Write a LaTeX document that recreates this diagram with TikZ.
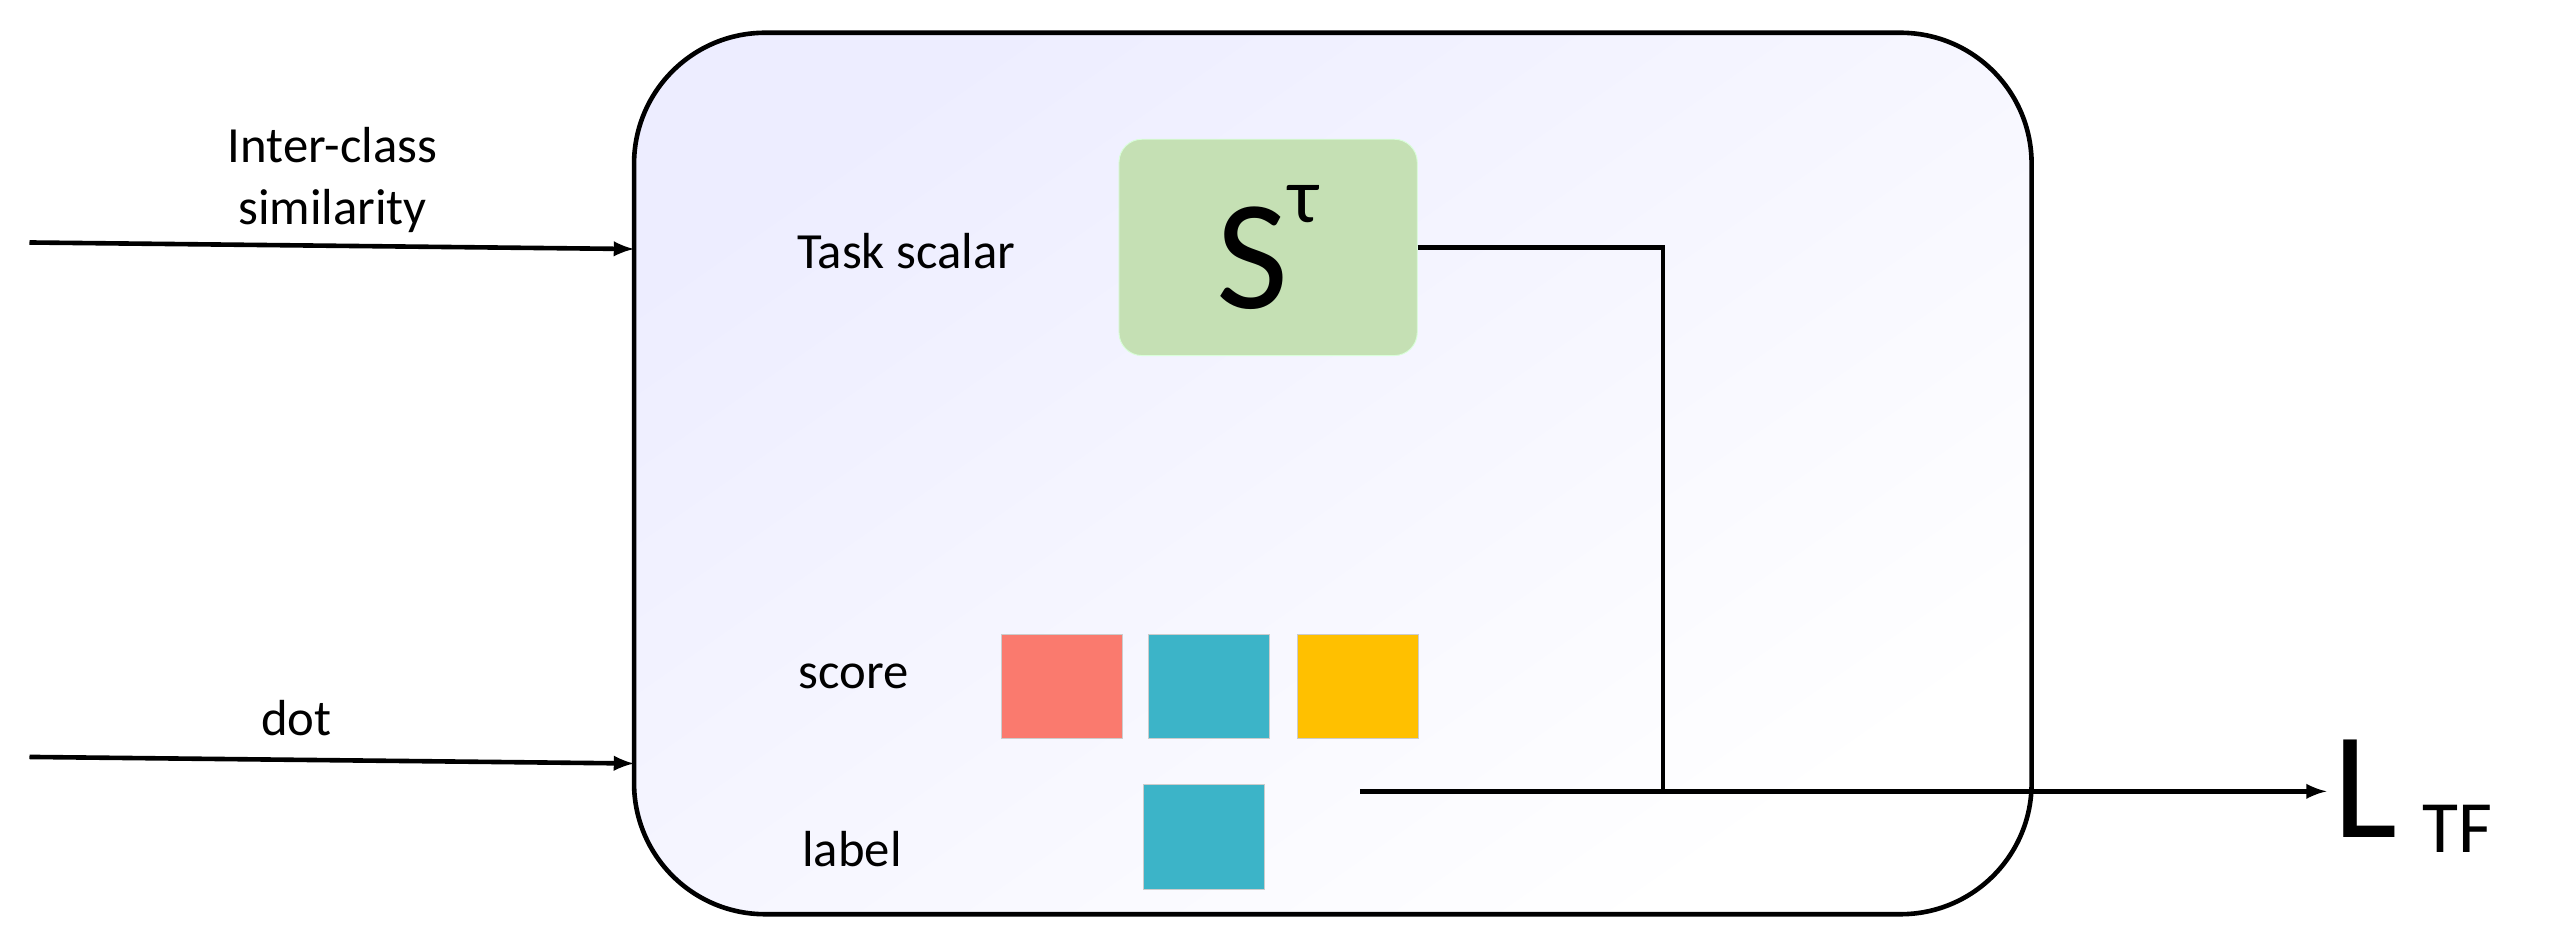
\documentclass[tikz,border=0pt]{standalone}
\usepackage{fontspec}
\setmainfont{Carlito}
\usetikzlibrary{shapes,shapes.misc,arrows}
\definecolor{scoreRed}{HTML}{FA7A6E}
\definecolor{scoreTeal}{HTML}{3CB4C8}
\definecolor{scoreGold}{HTML}{FFC000}
\definecolor{scalarGreen}{HTML}{C5E0B4}
\tikzset{
  sq/.style={draw=white!80!black, minimum width=1.85cm, minimum height=1.6cm, inner sep=0},
  txt/.style={font=\fontsize{22}{27}\selectfont},
  conn/.style={line width=2pt},
}
\begin{document}
\begin{tikzpicture}[x=0.025cm, y=-0.025cm, >={latex[scale=2.6]}]
\useasboundingbox (0,0) rectangle (1568,577);
\draw[conn, rounded corners=2cm, top color=blue!7, bottom color=white, shading angle=35] (387,20) rectangle (1240,558);
\node[fill=scalarGreen, draw=green!15!white, rounded corners=0.35cm, minimum width=4.55cm, minimum height=3.3cm] (st) at (774,151) {\fontsize{68}{72}\selectfont S\raisebox{0.55em}{\fontsize{34}{38}\selectfont τ}};
\node[txt] at (553,153) {Task scalar};
\node[txt, align=center] at (203,110) {Inter-class\\similarity};
\node[txt] at (181,438) {dot};
\node[txt] at (521,413) {score};
\node[txt] at (520,518) {label};
\node[sq, fill=scoreRed] (s1) at (648,419) {};
\node[sq, fill=scoreTeal] (s2) at (738,419) {};
\node[sq, fill=scoreGold] (s3) at (829,419) {};
\node[sq, fill=scoreTeal] (lb) at (735,511) {};
\coordinate (in1) at (18,148);
\coordinate (box1) at (387,152);
\coordinate (in2) at (18,462);
\coordinate (box2) at (387,466);
\coordinate (out) at (830,483);
\coordinate (jn) at (1015,483);
\node[anchor=west, inner sep=0, font=\fontsize{66}{72}\selectfont] (loss) at (1424,486) {L\,{\fontsize{32}{36}\selectfont\raisebox{-0.4ex}{TF}}};
\draw[conn, ->] (in1) -- (box1);
\draw[conn, ->] (in2) -- (box2);
\draw[conn] (st.east) -| (jn);
\draw[conn, ->] (out) -- (1420,483);
\end{tikzpicture}
\end{document}
